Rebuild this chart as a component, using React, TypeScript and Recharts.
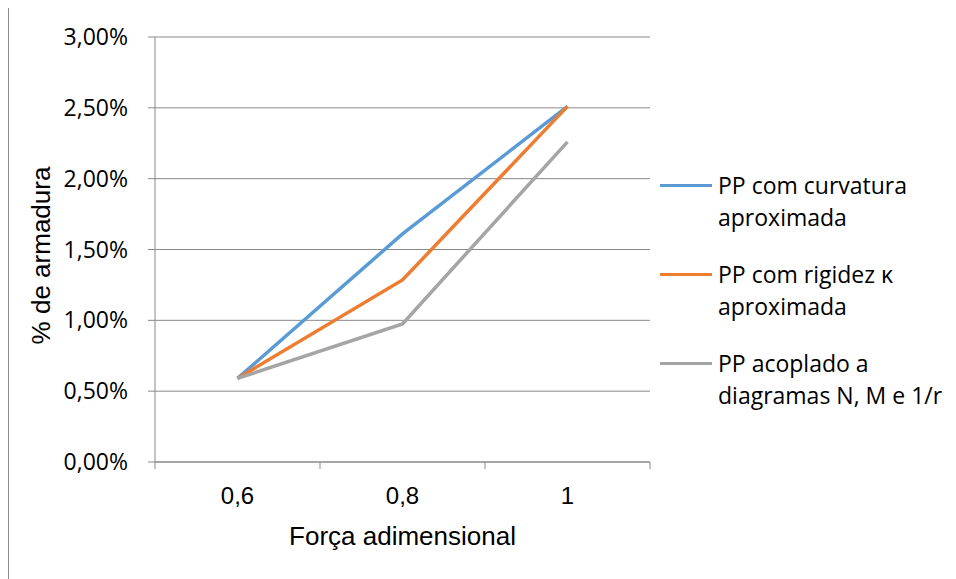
import { LineChart, Line, XAxis, YAxis, CartesianGrid, Legend, Label } from 'recharts';

const categories = ['0,6', '0,8', '1'];
const curvaturaAprox = [0.59, 1.61, 2.51];
const rigidezAprox = [0.59, 1.285, 2.51];
const acopladoDiagramas = [0.59, 0.975, 2.26];
const yTicks = [0, 0.5, 1, 1.5, 2, 2.5, 3];

const seriesInfo = [
    { key: 'curv', name: 'PP com curvatura aproximada', color: '#5B9BD5', values: curvaturaAprox },
    { key: 'rig', name: 'PP com rigidez κ aproximada', color: '#ED7D31', values: rigidezAprox },
    { key: 'acop', name: 'PP acoplado a diagramas N, M e 1/r', color: '#A5A5A5', values: acopladoDiagramas },
];

const data = categories.map((c, i) => {
    const row: Record<string, string | number> = { name: c };
    seriesInfo.forEach((s) => { row[s.key] = s.values[i]; });
    return row;
});

const GRID = '#898989';

const fmtPct = (v: number) => v.toFixed(2).replace('.', ',') + '%';

// category labels centered, tick marks between the categories (Excel style)
const XTick = (props: any) => {
    const { x, y, payload, index, visibleTicksCount } = props;
    const half = payload && payload.offset ? payload.offset : 82.5;
    const last = index === (visibleTicksCount ?? categories.length) - 1;
    return (
        <g>
            <line x1={x - half} x2={x - half} y1={y} y2={y + 7} stroke={GRID} />
            {last && <line x1={x + half} x2={x + half} y1={y} y2={y + 7} stroke={GRID} />}
            <text x={x} y={y + 42} textAnchor="middle" fontFamily="'Liberation Sans', Arial, sans-serif" fontSize={24} fill="#000">
                {payload.value}
            </text>
        </g>
    );
};

const LegendBox = (props: any) => {
    const order = seriesInfo.map((s) => s.name);
    const items = [...(props.payload || [])].sort((a: any, b: any) => order.indexOf(a.value) - order.indexOf(b.value));
    return (
        <div style={{ fontFamily: "'Open Sans', sans-serif", fontSize: 23, color: '#000' }}>
            {items.map((p: any) => (
                <div key={p.value} style={{ display: 'flex', alignItems: 'flex-start', height: 89 }}>
                    <div style={{ width: 52, height: 3, background: p.color, marginTop: 15, marginRight: 6, flexShrink: 0 }} />
                    <div style={{ width: 232, lineHeight: '32px' }}>{p.value}</div>
                </div>
            ))}
        </div>
    );
};

const YTitle = (props: any) => {
    const { viewBox } = props;
    const cy = viewBox.y + viewBox.height / 2 + 6;
    return (
        <text x={42} y={cy} transform={`rotate(-90, 42, ${cy})`} textAnchor="middle"
            fontFamily="'Liberation Sans', Arial, sans-serif" fontSize={26} fill="#000">
            % de armadura
        </text>
    );
};

const App = () => {
    return (
        <div style={{ position: 'relative', width: 948, height: 571 }}>
            <div style={{
                position: 'absolute', left: -1, top: -1, width: 949, height: 572,
                borderTop: '1px solid #7f7f7f', borderLeft: '2px solid #8c8c8c',
                boxSizing: 'border-box', zIndex: 5, pointerEvents: 'none',
            }} />
            <LineChart
                width={948}
                height={571}
                data={data}
                margin={{ top: 29, right: 306, left: 47, bottom: 37 }}
            >
                <CartesianGrid vertical={false} stroke={GRID} />
                <XAxis
                    dataKey="name"
                    scale="band"
                    height={80}
                    axisLine={{ stroke: GRID }}
                    tickLine={false}
                    tickSize={0}
                    tickMargin={0}
                    tick={<XTick />}
                    interval={0}
                >
                    <Label value="Força adimensional" position="insideBottom" offset={-3}
                        style={{ fontFamily: "'Liberation Sans', Arial, sans-serif", fontSize: 26, fill: '#000' }} />
                </XAxis>
                <YAxis
                    width={100}
                    domain={[0, 3]}
                    ticks={yTicks}
                    tickFormatter={fmtPct}
                    axisLine={{ stroke: GRID }}
                    tickLine={{ stroke: GRID }}
                    tickSize={7}
                    tickMargin={20}
                    tick={{ fontFamily: "'Open Sans', sans-serif", fontSize: 23, fill: '#000' }}
                    interval={0}
                >
                    <Label content={<YTitle />} />
                </YAxis>
                <Legend
                    layout="vertical"
                    align="center"
                    verticalAlign="middle"
                    itemSorter={null}
                    content={<LegendBox />}
                    wrapperStyle={{ left: 652, top: 161, width: 292 }}
                />
                {seriesInfo.map((s) => (
                    <Line
                        key={s.key}
                        type="linear"
                        dataKey={s.key}
                        name={s.name}
                        stroke={s.color}
                        strokeWidth={3.5}
                        dot={false}
                        activeDot={false}
                        isAnimationActive={false}
                    />
                ))}
            </LineChart>
        </div>
    );
};

export default App;
